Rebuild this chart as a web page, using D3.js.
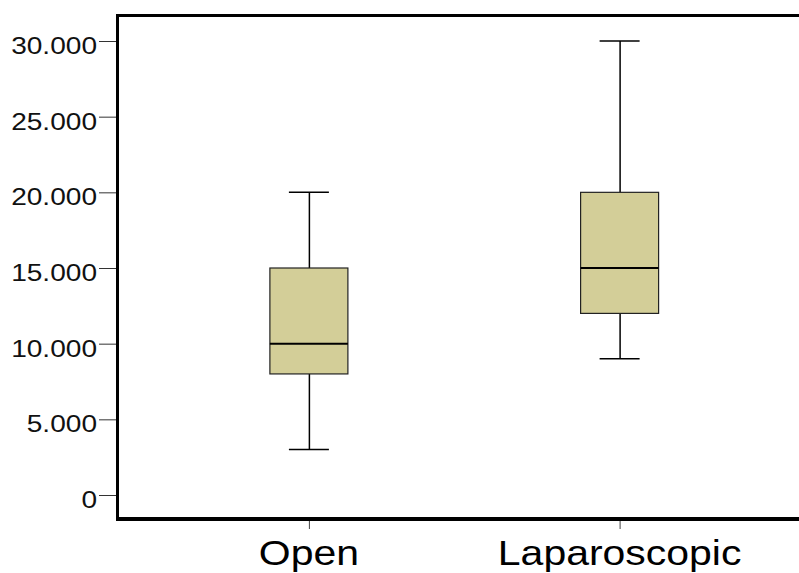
<!DOCTYPE html>
<html><head><meta charset="utf-8">
<script src="https://cdn.jsdelivr.net/npm/d3@7"></script>
<style>html,body{margin:0;padding:0;background:#fff;}svg{display:block;}</style>
</head><body>
<svg id="chart" width="799" height="573"></svg>
<script>
const categories = ["Open", "Laparoscopic"];
const mins = [3000, 9000];
const q1s = [8000, 12000];
const medians = [10000, 15000];
const q3s = [15000, 20000];
const maxs = [20000, 30000];
const yTicks = [0, 5000, 10000, 15000, 20000, 25000, 30000];

const svg = d3.select("#chart");
const plotLeft = 117.5, plotTop = 15.5, plotBottom = 519, plotRight = 811;
const y = d3.scaleLinear().domain([0, 30000]).range([495, 41]);
const x = d3.scalePoint().domain(categories).range([plotLeft, plotRight]).padding(0.616);
const boxW = 78, capW = 40;
const fmt = d3.formatLocale({thousands: ".", grouping: [3], decimal: ",", currency: ["", ""]}).format(",d");
const font = "Liberation Sans, Arial, sans-serif";
const sx = 1.17;

// y ticks
svg.append("g").selectAll("line").data(yTicks).join("line")
  .attr("x1", 99).attr("x2", plotLeft).attr("y1", d => y(d) + 0.5).attr("y2", d => y(d) + 0.5)
  .attr("stroke", "#333").attr("stroke-width", 1);
svg.append("g").selectAll("text").data(yTicks).join("text")
  .attr("transform", d => `translate(97,${y(d)}) scale(${sx},1)`)
  .attr("text-anchor", "end").attr("dy", "0.54em")
  .attr("font-family", font).attr("font-size", 24).attr("fill", "#111")
  .text(d => fmt(d));

// x ticks + labels
svg.append("g").selectAll("line").data(categories).join("line")
  .attr("x1", d => x(d) + 0.5).attr("x2", d => x(d) + 0.5).attr("y1", plotBottom).attr("y2", 529)
  .attr("stroke", "#444").attr("stroke-width", 1);
svg.append("g").selectAll("text").data(categories).join("text")
  .attr("transform", d => `translate(${x(d)},565) scale(${sx},1)`)
  .attr("text-anchor", "middle")
  .attr("font-family", font).attr("font-size", 35).attr("fill", "#000")
  .text(d => d);

// boxes
const idx = d3.range(categories.length);
const g = svg.append("g");
g.selectAll(".wu").data(idx).join("line")
  .attr("x1", i => x(categories[i]) + 0.5).attr("x2", i => x(categories[i]) + 0.5)
  .attr("y1", i => y(maxs[i])).attr("y2", i => y(q3s[i]))
  .attr("stroke", "#000").attr("stroke-width", 1.5);
g.selectAll(".wl").data(idx).join("line")
  .attr("x1", i => x(categories[i]) + 0.5).attr("x2", i => x(categories[i]) + 0.5)
  .attr("y1", i => y(q1s[i])).attr("y2", i => y(mins[i]))
  .attr("stroke", "#000").attr("stroke-width", 1.5);
g.selectAll(".cu").data(idx).join("line")
  .attr("x1", i => x(categories[i]) - capW / 2).attr("x2", i => x(categories[i]) + capW / 2)
  .attr("y1", i => y(maxs[i])).attr("y2", i => y(maxs[i]))
  .attr("stroke", "#000").attr("stroke-width", 1.5);
g.selectAll(".cl").data(idx).join("line")
  .attr("x1", i => x(categories[i]) - capW / 2).attr("x2", i => x(categories[i]) + capW / 2)
  .attr("y1", i => y(mins[i])).attr("y2", i => y(mins[i]))
  .attr("stroke", "#000").attr("stroke-width", 1.5);
g.selectAll("rect").data(idx).join("rect")
  .attr("x", i => x(categories[i]) - boxW / 2).attr("width", boxW)
  .attr("y", i => y(q3s[i])).attr("height", i => y(q1s[i]) - y(q3s[i]))
  .attr("fill", "#d3ce98").attr("stroke", "#222").attr("stroke-width", 1.2);
g.selectAll(".med").data(idx).join("line")
  .attr("x1", i => x(categories[i]) - boxW / 2).attr("x2", i => x(categories[i]) + boxW / 2)
  .attr("y1", i => y(medians[i])).attr("y2", i => y(medians[i]))
  .attr("stroke", "#000").attr("stroke-width", 2);

// frame
svg.append("line").attr("x1", plotLeft).attr("x2", plotLeft).attr("y1", plotTop - 1.5).attr("y2", plotBottom + 2)
  .attr("stroke", "#000").attr("stroke-width", 3);
svg.append("line").attr("x1", plotLeft - 1.5).attr("x2", 799).attr("y1", plotTop).attr("y2", plotTop)
  .attr("stroke", "#000").attr("stroke-width", 3);
svg.append("line").attr("x1", plotLeft - 1.5).attr("x2", 799).attr("y1", plotBottom).attr("y2", plotBottom)
  .attr("stroke", "#000").attr("stroke-width", 4);
</script>
</body></html>
